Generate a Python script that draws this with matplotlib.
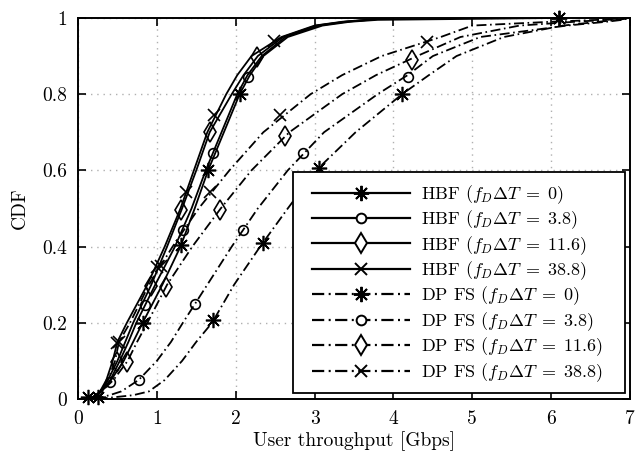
import matplotlib
matplotlib.use("Agg")
import matplotlib.pyplot as plt
from matplotlib.lines import Line2D
from matplotlib.patches import Rectangle

plt.rcParams['font.family'] = 'serif'
plt.rcParams['font.serif'] = ['cmr10']
plt.rcParams['mathtext.fontset'] = 'cm'
plt.rcParams['axes.formatter.use_mathtext'] = True
plt.rcParams['axes.unicode_minus'] = False

# CDF levels shared by all curves
cdf = [0, 0.01, 0.02, 0.05, 0.1, 0.15, 0.2, 0.3, 0.4, 0.5, 0.6, 0.7, 0.8, 0.85, 0.9, 0.95, 0.98, 0.99, 0.995, 1.0]

# throughput [Gbps] at each CDF level
hbf_0 = [0.15, 0.24, 0.30, 0.42, 0.58, 0.70, 0.82, 1.07, 1.30, 1.48, 1.65, 1.85, 2.05, 2.18, 2.35, 2.66, 3.10, 3.45, 3.80, 6.10]
hbf_3_8 = [0.15, 0.24, 0.30, 0.41, 0.53, 0.64, 0.74, 0.98, 1.23, 1.44, 1.62, 1.82, 2.02, 2.15, 2.33, 2.63, 3.05, 3.40, 3.70, 3.95]
hbf_11_6 = [0.15, 0.23, 0.29, 0.38, 0.50, 0.60, 0.70, 0.93, 1.13, 1.32, 1.50, 1.67, 1.95, 2.10, 2.28, 2.60, 3.02, 3.38, 3.68, 3.90]
hbf_38_8 = [0.15, 0.23, 0.28, 0.36, 0.44, 0.50, 0.62, 0.88, 1.10, 1.30, 1.47, 1.64, 1.88, 2.02, 2.20, 2.58, 3.00, 3.35, 3.65, 3.90]
dp_0 = [0.25, 0.70, 0.90, 1.10, 1.32, 1.50, 1.70, 1.98, 2.31, 2.66, 3.02, 3.52, 4.11, 4.45, 4.80, 5.40, 6.15, 6.60, 6.85, 7.00]
dp_3_8 = [0.20, 0.40, 0.55, 0.77, 1.00, 1.18, 1.33, 1.64, 1.95, 2.28, 2.66, 3.12, 3.80, 4.18, 4.50, 5.10, 6.20, 6.70, 6.90, 7.00]
dp_11_6 = [0.15, 0.23, 0.30, 0.45, 0.63, 0.75, 0.88, 1.13, 1.45, 1.81, 2.20, 2.68, 3.35, 3.78, 4.30, 4.85, 5.60, 6.30, 6.70, 7.00]
dp_38_8 = [0.15, 0.22, 0.28, 0.38, 0.47, 0.52, 0.66, 0.90, 1.20, 1.53, 1.92, 2.35, 2.95, 3.35, 3.85, 4.60, 5.00, 6.00, 6.60, 7.00]

# marker positions (x, CDF)
hbf_0_mx = [0.13, 0.82, 1.31, 1.65, 2.05, 6.10]
hbf_0_my = [0.005, 0.20, 0.404, 0.60, 0.80, 1.0]
hbf_3_8_mx = [0.40, 0.85, 1.33, 1.71, 2.15]
hbf_3_8_my = [0.045, 0.247, 0.444, 0.646, 0.845]
hbf_11_6_mx = [0.50, 0.92, 1.31, 1.67, 2.27]
hbf_11_6_my = [0.097, 0.296, 0.496, 0.70, 0.898]
hbf_38_8_mx = [0.49, 1.00, 1.37, 1.73, 2.49]
hbf_38_8_my = [0.147, 0.347, 0.543, 0.745, 0.94]
dp_0_mx = [0.25, 1.71, 2.34, 3.05, 4.11, 6.10]
dp_0_my = [0.005, 0.207, 0.41, 0.606, 0.80, 1.0]
dp_3_8_mx = [0.77, 1.48, 2.09, 2.85, 4.18]
dp_3_8_my = [0.05, 0.25, 0.444, 0.646, 0.845]
dp_11_6_mx = [0.62, 1.11, 1.80, 2.63, 4.24]
dp_11_6_my = [0.097, 0.294, 0.496, 0.69, 0.89]
dp_38_8_mx = [0.52, 1.05, 1.68, 2.56, 4.43]
dp_38_8_my = [0.15, 0.35, 0.543, 0.745, 0.937]

labels = [r'HBF ($f_D\Delta T\;=\;0$)', r'HBF ($f_D\Delta T\;=\;3.8$)',
          r'HBF ($f_D\Delta T\;=\;11.6$)', r'HBF ($f_D\Delta T\;=\;38.8$)',
          r'DP FS ($f_D\Delta T\;=\;0$)', r'DP FS ($f_D\Delta T\;=\;3.8$)',
          r'DP FS ($f_D\Delta T\;=\;11.6$)', r'DP FS ($f_D\Delta T\;=\;38.8$)']
xticks = [0, 1, 2, 3, 4, 5, 6, 7]
yticks = [0, 0.2, 0.4, 0.6, 0.8, 1.0]
ytick_labels = ['0', '0.2', '0.4', '0.6', '0.8', '1']

curves = [hbf_0, hbf_3_8, hbf_11_6, hbf_38_8, dp_0, dp_3_8, dp_11_6, dp_38_8]
marks = [(hbf_0_mx, hbf_0_my), (hbf_3_8_mx, hbf_3_8_my), (hbf_11_6_mx, hbf_11_6_my),
         (hbf_38_8_mx, hbf_38_8_my), (dp_0_mx, dp_0_my), (dp_3_8_mx, dp_3_8_my),
         (dp_11_6_mx, dp_11_6_my), (dp_38_8_mx, dp_38_8_my)]

ast = (8, 2, 0)
marker_styles = [ast, 'o', 'd', 'x', ast, 'o', 'd', 'x']
marker_sizes = [11, 7, 10, 9, 11, 7, 10, 9]
dashdot = (0, (5.5, 2.0, 0.9, 2.0))
line_styles = ['-'] * 4 + [dashdot] * 4

W, H = 636, 458
fig = plt.figure(figsize=(W / 100, H / 100), dpi=100)
ax = fig.add_axes([0.1226, 0.1288, 0.868, 0.832])

handles = []
for i in range(8):
    ax.plot(curves[i], cdf, color='black', lw=1.3, linestyle=line_styles[i])
    ax.plot(marks[i][0], marks[i][1], linestyle='none', marker=marker_styles[i],
            ms=marker_sizes[i], mfc='none', mec='black', mew=1.2, clip_on=False)
    handles.append(Line2D([], [], color='black', lw=1.6, linestyle=line_styles[i],
                          marker=marker_styles[i], ms=marker_sizes[i], mfc='white',
                          mec='black', mew=1.4))

ax.set_xlim(0, 7)
ax.set_ylim(0, 1)
ax.set_xticks(xticks)
ax.set_xticklabels([str(t) for t in xticks])
ax.set_yticks(yticks)
ax.set_yticklabels(ytick_labels)
ax.tick_params(direction='in', top=True, right=True, length=6, width=1.2,
               labelsize=14, pad=8)
for s in ax.spines.values():
    s.set_linewidth(1.4)
ax.grid(True, linestyle=(0, (1, 3.5)), color='#b0b0b0', lw=1.0)
ax.set_xlabel('User throughput [Gbps]', fontsize=14, labelpad=2)
ax.set_ylabel('CDF', fontsize=14, labelpad=9)

# legend frame (drawn separately to match the reference box)
frame = Rectangle((293 / W, 1 - 393 / H), 332 / W, 221 / H, transform=fig.transFigure,
                  facecolor='white', edgecolor='black', lw=1.3, zorder=4)
fig.add_artist(frame)
leg = fig.legend(handles, labels, loc='upper left',
                 bbox_to_anchor=(312 / W, 1 - 183 / H), bbox_transform=fig.transFigure,
                 fontsize=13, numpoints=1, handlelength=5.45, handletextpad=0.6,
                 labelspacing=0.15, borderpad=0.0, borderaxespad=0.0, frameon=False)
leg.set_zorder(5)

fig.savefig('out.png', dpi=100)
